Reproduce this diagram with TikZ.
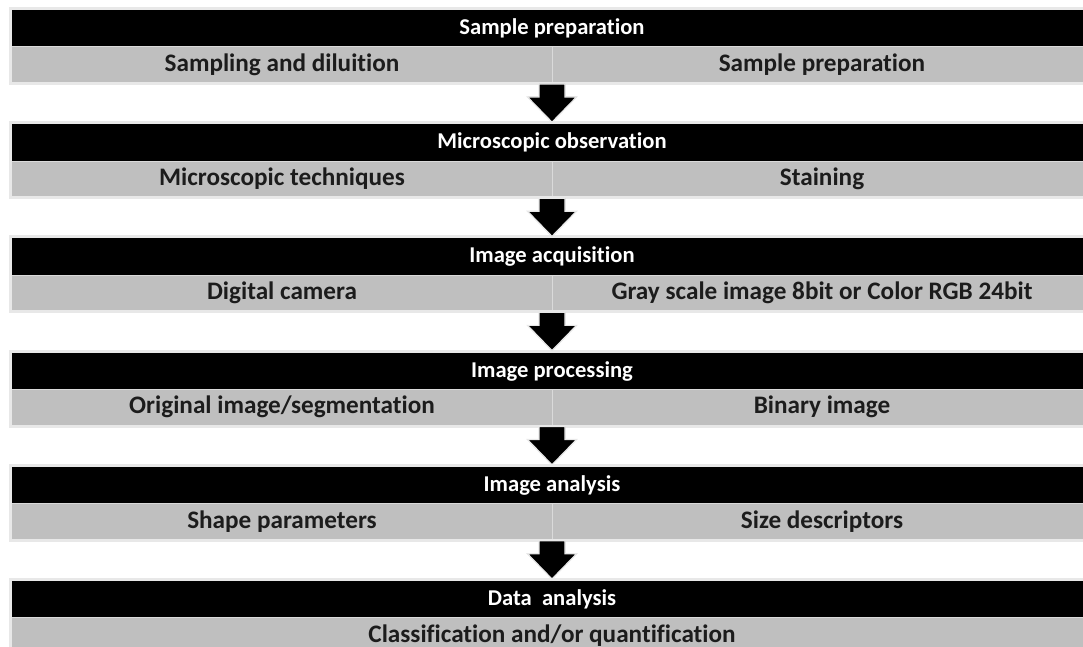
\documentclass[tikz,border=0pt]{standalone}
\usepackage{fontspec}
\setmainfont{Carlito}[Ligatures={NoCommon}]
\usetikzlibrary{calc}
\definecolor{bandgray}{HTML}{BFBFBF}
\definecolor{rimgray}{HTML}{E8E8E8}
\definecolor{inkgray}{HTML}{1C1C1C}
\definecolor{seamgray}{HTML}{DADADA}
\tikzset{
  titlebar/.style={fill=black, text=white, font=\bfseries\fontsize{22.6}{26}\selectfont,
    minimum width=1080pt, minimum height=37pt, inner sep=0pt, outer sep=0pt},
  cell/.style={fill=bandgray, text=inkgray, font=\bfseries\fontsize{25.2}{29}\selectfont,
    minimum width=540pt, minimum height=35pt, inner sep=0pt, outer sep=0pt},
  rim/.style={fill=rimgray},
  seam/.style={draw=seamgray, line width=1pt},
  flowarrow/.style={fill=black, draw=rimgray, line width=1.2pt, line join=miter},
}
\begin{document}
\begin{tikzpicture}[x=1pt,y=1pt]
\useasboundingbox (0,0) rectangle (1083,647);
\fill[white] (0,0) rectangle (1083,647);
% stages: title bar with two sub-cells
\foreach \i/\ttl/\lft/\rgt in {
  0/{Sample preparation}/{Sampling and diluition}/{Sample preparation},
  1/{Microscopic observation}/{Microscopic techniques}/{Staining},
  2/{Image acquisition}/{Digital camera}/{Gray scale image 8bit or Color RGB 24bit},
  3/{Image processing}/{Original image/segmentation}/{Binary image},
  4/{Image analysis}/{Shape parameters}/{Size descriptors}}{
  \pgfmathsetmacro\ytop{637-114.2*\i}
  \fill[rim] (9,\ytop+3) rectangle (1083,\ytop-75);
  \node[titlebar, anchor=north] (t\i) at (552,\ytop) {\ttl};
  \node[cell, anchor=north east] (l\i) at (t\i.south) {\lft};
  \node[cell, anchor=north west] (r\i) at (t\i.south) {\rgt};
  \draw[seam] (t\i.south west) -- (t\i.south east);
  \draw[seam] (l\i.north east) -- (l\i.south east);
}
% final stage: single cell
\pgfmathsetmacro\ytop{637-114.2*5}
\fill[rim] (9,\ytop+3) rectangle (1083,\ytop-75);
\node[titlebar, anchor=north] (t5) at (552,\ytop) {Data~ analysis};
\node[cell, minimum width=1080pt, anchor=north] (c5) at (t5.south) {Classification and/or quantification};
\draw[seam] (t5.south west) -- (t5.south east);
% block arrows between stages
\foreach \i in {0,...,4}{
  \pgfmathtruncatemacro\j{\i+1}
  \fill[flowarrow] ($(l\i.south east)+(-13,-2)$) -- ++(26,0) -- ++(0,-13) -- ++(11.5,0)
    -- ($(t\j.north)+(0,2)$) -- ($(l\i.south east)+(-24.5,-15)$) -- ++(11.5,0) -- cycle;
}
\end{tikzpicture}
\end{document}
